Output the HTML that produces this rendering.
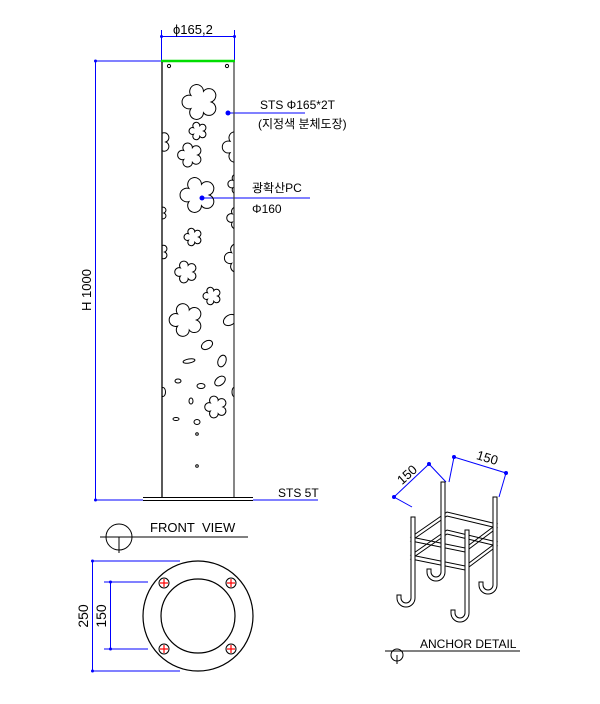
<!DOCTYPE html>
<html><head><meta charset="utf-8"><style>
html,body{margin:0;padding:0;background:#fff;width:600px;height:704px;overflow:hidden}
text{font-family:"Liberation Sans","Noto Sans CJK KR",sans-serif;fill:#000}
</style></head><body>
<svg width="600" height="704" viewBox="0 0 600 704" xmlns="http://www.w3.org/2000/svg">
<defs>
<path id="fl" d="M7 0 A4.3 4.3 0 1 1 2.16 6.66 A4.3 4.3 0 1 1 -5.66 4.11 A4.3 4.3 0 1 1 -5.66 -4.11 A4.3 4.3 0 1 1 2.16 -6.66 A4.3 4.3 0 1 1 7 0 Z" fill="none" stroke="#000" stroke-width="1" vector-effect="non-scaling-stroke"/>
<clipPath id="pole"><rect x="162" y="61" width="72" height="437"/></clipPath>
</defs>
<g stroke="#0000ff" stroke-width="1">
<line x1="161.5" y1="30" x2="161.5" y2="61"/><line x1="234.5" y1="30" x2="234.5" y2="61"/>
<line x1="161" y1="36.5" x2="235" y2="36.5"/>
<line x1="95" y1="61" x2="161" y2="61"/><line x1="95" y1="500" x2="143" y2="500"/>
<line x1="95.5" y1="61" x2="95.5" y2="500"/>
<line x1="228" y1="113" x2="305" y2="113"/>
<line x1="202" y1="198" x2="310" y2="198"/>
<line x1="253" y1="500" x2="318" y2="500"/>
</g>
<g fill="#0000ff"><circle cx="161.5" cy="36.5" r="1.5"/><circle cx="234.5" cy="36.5" r="1.5"/><circle cx="95.5" cy="61" r="1.5"/><circle cx="95.5" cy="500" r="1.5"/><circle cx="228" cy="113" r="2.5"/><circle cx="202" cy="198" r="2.5"/></g>
<text x="173" y="34" font-size="13">ϕ165,2</text>
<text transform="translate(91,290) rotate(-90)" font-size="13" text-anchor="middle">H 1000</text>
<text x="260" y="109" font-size="12">STS Φ165*2T</text>
<text x="258" y="128" font-size="12">(지정색 분체도장)</text>
<text x="252" y="192" font-size="12">광확산PC</text>
<text x="252" y="213" font-size="12">Φ160</text>
<text x="278" y="497" font-size="12">STS 5T</text>
<line x1="161" y1="61" x2="235" y2="61" stroke="#00dd00" stroke-width="2.5"/>
<line x1="162" y1="62" x2="162" y2="498" stroke="#000" stroke-width="1.3"/>
<line x1="234" y1="62" x2="234" y2="498" stroke="#444" stroke-width="1.3"/>
<line x1="143" y1="497.5" x2="253" y2="497.5" stroke="#000"/>
<line x1="143" y1="500.5" x2="253" y2="500.5" stroke="#000"/>
<g fill="none" stroke="#000"><circle cx="169" cy="66" r="1.6"/><circle cx="227" cy="66" r="1.6"/><circle cx="197" cy="434" r="1.3"/><circle cx="197" cy="466" r="1.3"/></g>
<g clip-path="url(#pole)">
<use href="#fl" transform="translate(200,102) scale(1.6)"/>
<use href="#fl" transform="translate(198,131) scale(0.8)"/>
<use href="#fl" transform="translate(190,155) scale(1.1)"/>
<use href="#fl" transform="translate(198,195) scale(1.6)"/>
<use href="#fl" transform="translate(193,237) scale(0.8)"/>
<use href="#fl" transform="translate(186,272) scale(1)"/>
<use href="#fl" transform="translate(186,320) scale(1.5)"/>
<use href="#fl" transform="translate(212,296) scale(0.8)"/>
<use href="#fl" transform="translate(216,407) scale(1)"/>
<use href="#fl" transform="translate(158,142) scale(1.1)"/>
<use href="#fl" transform="translate(238,147) scale(1.4)"/>
<use href="#fl" transform="translate(159,213) scale(0.7)"/>
<use href="#fl" transform="translate(159,252) scale(0.8)"/>
<use href="#fl" transform="translate(238,184) scale(0.9)"/>
<use href="#fl" transform="translate(238,218) scale(1)"/>
<use href="#fl" transform="translate(239,258) scale(1.3)"/>
<g fill="none" stroke="#000">
<ellipse cx="230" cy="320" rx="7" ry="5" transform="rotate(-30 230 320)"/>
<ellipse cx="207" cy="345" rx="6" ry="4" transform="rotate(-30 207 345)"/>
<ellipse cx="189" cy="361" rx="6" ry="2" transform="rotate(-10 189 361)"/>
<ellipse cx="222" cy="361" rx="4" ry="6" transform="rotate(20 222 361)"/>
<ellipse cx="178" cy="381" rx="3" ry="2"/>
<ellipse cx="201" cy="386" rx="4" ry="2.5"/>
<ellipse cx="220" cy="381" rx="6" ry="4" transform="rotate(-40 220 381)"/>
<ellipse cx="163" cy="392" rx="2.5" ry="4.5"/>
<ellipse cx="234" cy="392" rx="2" ry="4.5"/>
<ellipse cx="191" cy="401" rx="2" ry="3"/>
<ellipse cx="176" cy="419" rx="3" ry="1.5"/>
<ellipse cx="197" cy="422" rx="3" ry="2.5"/>
</g>
</g>
<circle cx="119" cy="537" r="13" fill="none" stroke="#000"/>
<line x1="100" y1="537" x2="248" y2="537" stroke="#000"/>
<line x1="119" y1="537" x2="119" y2="553" stroke="#000"/>
<text x="150" y="532" font-size="13">FRONT&#160;&#160;VIEW</text>
<circle cx="198" cy="616" r="55" fill="none" stroke="#000" stroke-width="1.2"/>
<circle cx="198" cy="616" r="37" fill="none" stroke="#000" stroke-width="1.2"/>
<g stroke="#ff0000" stroke-width="1.2"><line x1="160" y1="583" x2="168" y2="583"/><line x1="164" y1="579" x2="164" y2="587"/><line x1="227" y1="583" x2="235" y2="583"/><line x1="231" y1="579" x2="231" y2="587"/><line x1="160" y1="649" x2="168" y2="649"/><line x1="164" y1="645" x2="164" y2="653"/><line x1="227" y1="649" x2="235" y2="649"/><line x1="231" y1="645" x2="231" y2="653"/></g>
<g fill="none" stroke="#000"><circle cx="164" cy="583" r="5"/><circle cx="231" cy="583" r="5"/><circle cx="164" cy="649" r="5"/><circle cx="231" cy="649" r="5"/></g>
<g stroke="#0000ff"><line x1="92" y1="561" x2="180" y2="561"/><line x1="92" y1="671" x2="180" y2="671"/><line x1="92.5" y1="561" x2="92.5" y2="671"/>
<line x1="104" y1="582" x2="148" y2="582"/><line x1="104" y1="649" x2="148" y2="649"/><line x1="110.5" y1="582" x2="110.5" y2="649"/></g>
<g fill="#0000ff"><circle cx="92.5" cy="561" r="1.5"/><circle cx="92.5" cy="671" r="1.5"/><circle cx="110.5" cy="582" r="1.5"/><circle cx="110.5" cy="649" r="1.5"/></g>
<text transform="translate(88,616) rotate(-90)" font-size="14" text-anchor="middle">250</text>
<text transform="translate(106,616) rotate(-90)" font-size="14" text-anchor="middle">150</text>
<g stroke="#0000ff"><polyline points="412,507 394,497 429,464 446,482" fill="none"/><polyline points="449,482 454,457 506,473 499,497" fill="none"/></g>
<g fill="#0000ff"><circle cx="394" cy="497" r="2"/><circle cx="429" cy="464" r="2"/><circle cx="454" cy="457" r="2"/><circle cx="506" cy="473" r="2"/></g>
<text transform="translate(410,478) rotate(-42)" font-size="13" text-anchor="middle">150</text>
<text transform="translate(486,462) rotate(17)" font-size="13" text-anchor="middle">150</text>
<g fill="none" stroke="#000" stroke-width="1">
<path d="M411 537 L447 512 L497 524 L465 548 Z"/><path d="M411 541 L447 516 L497 528 L465 552 Z"/>
<path d="M411 555 L447 530 L497 542 L465 566 Z"/><path d="M411 559 L447 534 L497 546 L465 570 Z"/>
<path d="M445 482 L445 572 A9 9 0 0 1 427 572 L427 569 L431 569 L431 572 A5 5 0 0 0 441 572 L441 482 Z" fill="#fff"/>
<path d="M415 517 L415 598 A9 9 0 0 1 397 598 L397 595 L401 595 L401 598 A5 5 0 0 0 411 598 L411 517 Z" fill="#fff"/>
<path d="M497 497 L497 585 A9 9 0 0 1 479 585 L479 582 L483 582 L483 585 A5 5 0 0 0 493 585 L493 497 Z" fill="#fff"/>
<path d="M469 530 L469 613 A9 9 0 0 1 451 613 L451 610 L455 610 L455 613 A5 5 0 0 0 465 613 L465 530 Z" fill="#fff"/>
</g>
<circle cx="397" cy="655" r="6" fill="none" stroke="#000"/>
<line x1="385" y1="651" x2="520" y2="651" stroke="#000"/>
<line x1="397" y1="655" x2="397" y2="664" stroke="#000"/>
<text x="420" y="648" font-size="12">ANCHOR DETAIL</text>
</svg>
</body></html>
